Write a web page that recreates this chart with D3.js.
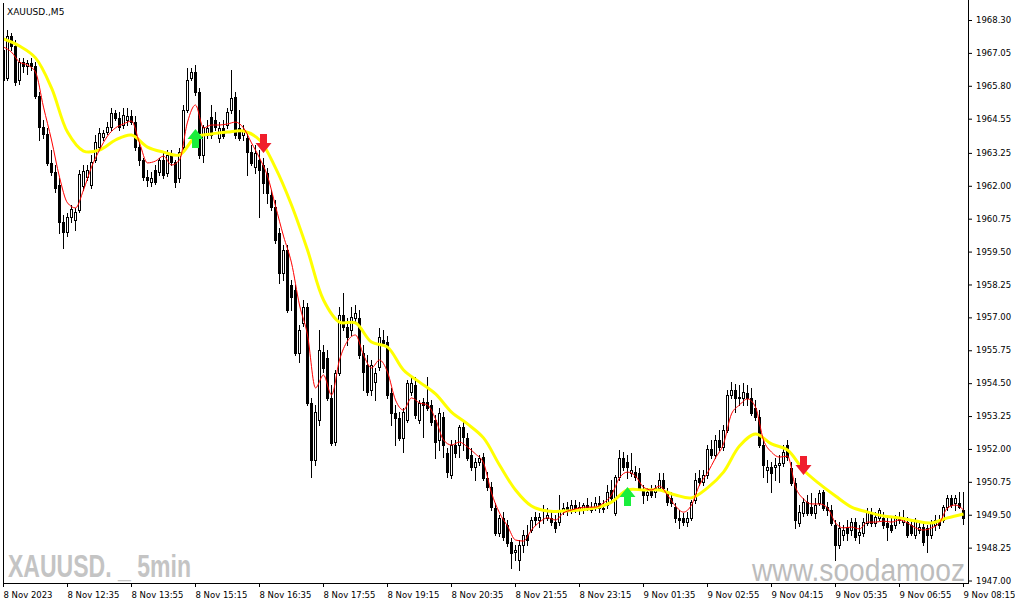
<!DOCTYPE html>
<html><head><meta charset="utf-8">
<script src="https://cdn.jsdelivr.net/npm/d3@7"></script>
<style>html,body{margin:0;padding:0;background:#fff;overflow:hidden}svg{display:block}</style>
</head><body><svg id="c" width="1015" height="605"></svg>
<script>
// ---- DATA (XAUUSD., M5) ----
const open=[1967.16,1966.10,1967.69,1967.31,1966.02,1966.70,1966.55,1966.67,1966.55,1965.41,
1964.23,1963.97,1962.87,1962.52,1962.03,1960.62,1960.24,1960.81,1960.70,1961.08,
1961.99,1962.33,1962.03,1962.98,1963.47,1963.85,1964.04,1964.23,1964.77,1964.58,
1964.31,1964.50,1964.65,1964.42,1963.47,1962.98,1962.33,1962.14,1962.60,1962.52,
1962.98,1962.49,1963.17,1962.90,1962.30,1963.47,1964.88,1966.10,1966.32,1965.56,
1963.17,1963.93,1964.61,1964.50,1963.82,1964.20,1964.31,1964.88,1965.37,1964.20,
1963.93,1963.82,1963.28,1962.71,1962.98,1962.79,1962.49,1961.65,1961.19,1960.21,
1958.69,1959.56,1958.23,1958.04,1955.65,1956.79,1957.39,1953.75,1951.58,1953.10,
1955.68,1955.46,1953.94,1952.26,1954.89,1957.09,1956.63,1956.52,1956.98,1956.98,
1955.65,1955.19,1954.24,1954.54,1955.11,1956.14,1956.06,1954.13,1953.37,1953.18,
1952.42,1953.10,1954.16,1954.43,1953.10,1953.78,1953.78,1953.67,1953.10,1952.34,
1953.21,1951.85,1951.01,1952.15,1952.15,1952.83,1952.42,1951.77,1951.31,1951.50,
1951.69,1950.90,1950.55,1949.76,1948.81,1949.38,1949.11,1948.46,1948.08,1947.78,
1948.35,1948.73,1948.92,1949.41,1949.30,1949.38,1949.38,1949.38,1949.22,1949.22,
1949.68,1949.79,1949.68,1949.87,1949.68,1949.68,1949.87,1949.79,1949.76,1949.95,
1949.76,1949.87,1950.44,1949.57,1950.93,1951.66,1951.50,1951.09,1951.12,1951.09,
1950.44,1950.25,1950.44,1950.36,1950.52,1950.82,1950.36,1950.14,1949.79,1949.38,
1949.38,1949.22,1949.38,1950.06,1950.90,1950.74,1951.01,1952.00,1951.77,1952.34,
1952.07,1952.72,1954.05,1954.24,1953.97,1953.94,1954.13,1953.94,1953.56,1953.21,
1952.15,1951.20,1951.31,1951.31,1951.39,1951.47,1952.15,1951.28,1950.71,1949.19,
1949.57,1949.98,1949.79,1949.57,1949.95,1950.36,1949.79,1949.68,1949.11,1948.35,
1948.73,1949.03,1948.92,1949.22,1948.73,1948.81,1949.19,1949.60,1949.19,1949.38,
1949.38,1949.19,1949.11,1949.11,1949.38,1949.22,1949.22,1949.11,1948.73,1948.92,
1949.03,1949.00,1948.73,1949.11,1949.30,1949.30,1949.79,1950.14,1949.95,1949.95,
1949.68];
const high=[1967.39,1967.92,1967.81,1967.54,1966.86,1966.86,1966.78,1966.86,1966.70,1965.56,
1964.50,1964.20,1963.36,1962.79,1962.30,1960.89,1960.97,1961.27,1961.16,1962.60,
1962.79,1962.79,1963.17,1963.93,1964.20,1964.12,1964.42,1964.96,1964.88,1964.80,
1964.96,1964.96,1964.88,1964.65,1963.74,1963.06,1962.60,1962.52,1962.79,1963.06,
1963.28,1963.36,1963.36,1962.98,1963.44,1965.07,1966.48,1966.48,1966.59,1965.72,
1964.31,1964.50,1965.07,1964.80,1964.42,1964.50,1964.96,1966.40,1965.56,1964.88,
1964.31,1964.04,1963.55,1963.55,1963.36,1963.06,1962.68,1961.84,1961.46,1960.40,
1959.75,1959.75,1958.42,1958.23,1956.71,1957.66,1957.55,1953.94,1953.67,1956.52,
1955.95,1955.76,1954.43,1955.00,1957.39,1957.93,1956.98,1957.39,1957.47,1957.28,
1955.95,1955.57,1955.38,1955.08,1956.60,1956.52,1956.29,1954.32,1953.67,1953.40,
1953.56,1954.62,1954.73,1954.73,1953.86,1953.94,1954.73,1953.86,1953.29,1953.56,
1953.40,1952.04,1952.34,1952.34,1952.91,1953.02,1952.61,1952.04,1951.66,1951.77,
1951.85,1951.12,1950.74,1949.95,1949.49,1949.60,1949.30,1948.62,1948.35,1948.54,
1948.92,1949.11,1949.41,1949.60,1949.57,1949.87,1949.76,1949.60,1949.49,1950.25,
1949.95,1949.98,1950.06,1950.06,1949.98,1949.95,1950.14,1949.98,1950.17,1950.21,
1950.06,1950.63,1950.82,1951.01,1951.96,1951.88,1951.77,1951.85,1951.35,1951.28,
1950.63,1950.52,1950.63,1950.63,1951.09,1951.09,1950.52,1950.36,1949.95,1949.68,
1949.57,1949.60,1950.06,1951.09,1951.20,1951.20,1952.15,1952.34,1952.53,1952.72,
1952.91,1954.24,1954.54,1954.47,1954.43,1954.51,1954.43,1954.32,1953.86,1953.48,
1952.34,1951.58,1951.50,1951.66,1951.77,1952.15,1952.34,1951.50,1950.90,1949.87,
1950.14,1950.25,1950.33,1950.14,1950.44,1950.44,1949.98,1949.87,1949.30,1949.22,
1949.11,1949.30,1949.38,1949.38,1949.11,1949.38,1949.76,1949.76,1949.60,1949.76,
1949.60,1949.38,1949.38,1949.49,1949.60,1949.68,1949.41,1949.30,1949.38,1949.22,
1949.22,1949.11,1949.30,1949.49,1949.49,1949.87,1950.25,1950.25,1950.25,1950.36,
1950.36];
const low=[1965.91,1966.02,1967.16,1965.83,1965.87,1966.32,1966.25,1966.40,1965.34,1963.74,
1963.82,1962.79,1962.41,1961.76,1960.21,1959.64,1960.09,1960.62,1960.32,1961.00,
1961.84,1962.22,1961.92,1962.90,1963.36,1963.74,1963.97,1964.12,1964.50,1964.12,
1964.20,1964.31,1964.35,1963.36,1962.79,1962.22,1961.99,1961.99,1962.07,1962.41,
1962.30,1962.37,1962.79,1961.95,1962.14,1963.36,1964.80,1966.02,1965.45,1963.06,
1962.90,1963.82,1963.82,1964.12,1963.66,1963.82,1964.20,1964.77,1963.82,1963.74,
1963.74,1962.41,1962.79,1962.49,1960.81,1961.73,1961.35,1961.08,1959.83,1958.31,
1958.42,1957.20,1957.28,1955.57,1955.30,1956.67,1953.67,1950.93,1951.39,1952.91,
1954.92,1953.86,1952.15,1952.15,1954.81,1956.52,1955.95,1956.33,1956.82,1955.46,
1954.24,1954.05,1954.05,1953.86,1955.00,1955.95,1953.94,1952.91,1952.15,1952.34,
1951.88,1953.02,1954.05,1953.18,1952.99,1952.45,1953.48,1952.91,1951.66,1951.96,
1951.69,1950.93,1950.90,1951.69,1951.69,1951.96,1951.58,1951.20,1950.82,1951.39,
1950.82,1950.44,1949.68,1948.73,1948.69,1948.54,1948.31,1947.48,1947.78,1947.40,
1948.08,1948.35,1948.84,1949.11,1949.03,1949.19,1949.30,1949.11,1948.84,1949.11,
1949.53,1949.49,1949.57,1949.60,1949.53,1949.57,1949.68,1949.60,1949.68,1949.60,
1949.60,1949.76,1950.06,1949.49,1950.82,1951.20,1950.90,1950.97,1950.82,1950.44,
1949.95,1950.06,1950.17,1950.17,1950.44,1950.44,1949.87,1949.83,1949.22,1949.00,
1949.11,1949.07,1949.30,1949.95,1950.63,1950.63,1950.90,1951.66,1951.66,1951.96,
1951.96,1952.64,1953.94,1953.40,1953.67,1953.67,1953.67,1953.29,1953.10,1952.07,
1950.93,1950.74,1950.36,1950.82,1950.74,1951.35,1951.58,1950.63,1949.00,1949.07,
1949.45,1949.49,1949.49,1949.38,1949.87,1949.68,1949.49,1949.11,1947.78,1948.24,
1948.54,1948.54,1948.73,1948.54,1948.43,1948.69,1949.11,1949.07,1949.07,1949.30,
1949.00,1948.54,1948.84,1949.00,1949.19,1949.11,1948.65,1948.73,1948.62,1948.81,
1948.35,1948.08,1948.62,1948.92,1949.00,1949.22,1949.68,1949.79,1949.68,1949.76,
1949.15];
const close=[1966.02,1967.69,1967.31,1965.94,1966.70,1966.55,1966.67,1966.55,1965.41,1964.23,
1963.97,1962.87,1962.52,1961.92,1960.62,1960.24,1960.81,1961.12,1961.00,1962.45,
1962.56,1962.60,1962.90,1963.66,1964.01,1964.01,1964.23,1964.77,1964.58,1964.23,
1964.69,1964.65,1964.42,1963.47,1962.98,1962.33,1962.22,1962.30,1962.14,1962.98,
1962.41,1963.17,1962.90,1962.14,1963.28,1964.88,1966.02,1966.32,1965.56,1963.17,
1964.23,1964.20,1963.93,1964.23,1964.20,1963.89,1964.80,1965.34,1963.93,1963.82,
1964.12,1963.28,1962.87,1963.25,1962.60,1962.11,1961.73,1961.19,1959.94,1958.69,
1959.56,1957.28,1957.77,1955.65,1956.52,1957.39,1953.75,1951.58,1953.40,1955.76,
1955.08,1953.94,1952.23,1954.89,1957.09,1956.63,1956.25,1957.01,1957.17,1955.57,
1954.92,1954.16,1955.19,1954.89,1956.25,1956.03,1954.05,1953.37,1953.18,1952.42,
1953.40,1954.51,1954.51,1953.29,1953.75,1953.67,1953.56,1953.02,1952.26,1953.37,
1952.15,1951.12,1952.15,1951.85,1952.83,1952.45,1951.66,1951.31,1951.50,1951.66,
1950.90,1950.55,1949.79,1948.81,1949.38,1948.65,1948.43,1948.05,1948.16,1948.35,
1948.73,1948.54,1949.30,1949.30,1949.41,1949.37,1949.49,1949.22,1949.00,1949.68,
1949.76,1949.64,1949.87,1949.68,1949.79,1949.87,1949.76,1949.68,1949.95,1949.76,
1949.72,1950.36,1950.14,1950.93,1951.66,1951.31,1951.31,1951.20,1950.93,1950.52,
1950.25,1950.36,1950.25,1950.52,1950.82,1950.52,1949.98,1949.95,1949.38,1949.30,
1949.22,1949.38,1949.98,1950.82,1950.74,1951.01,1952.00,1951.77,1952.34,1952.07,
1952.72,1954.05,1954.24,1953.94,1953.94,1954.16,1953.94,1953.37,1953.21,1952.15,
1951.39,1951.31,1951.09,1951.39,1951.47,1951.88,1951.69,1950.71,1949.30,1949.60,
1949.98,1949.57,1949.57,1949.87,1950.33,1949.76,1949.68,1949.19,1948.35,1949.00,
1948.92,1948.81,1949.22,1948.65,1948.84,1949.22,1949.60,1949.19,1949.41,1949.68,
1949.11,1949.03,1948.92,1949.38,1949.30,1949.38,1948.73,1948.81,1949.30,1949.03,
1948.46,1948.73,1949.19,1949.30,1949.11,1949.79,1950.14,1949.87,1950.14,1949.79,
1949.38];
// slow moving average (yellow), one value every 4 bars
const slowMA=[1967.58,1967.31,1966.86,1965.72,1964.04,1963.32,1963.36,1963.74,1963.93,1963.47,
1963.28,1963.17,1963.85,1963.97,1964.04,1964.08,1963.74,1962.68,1961.27,1959.56,
1957.66,1956.82,1956.79,1956.06,1955.87,1955.00,1954.54,1954.09,1953.40,1952.95,
1952.42,1951.39,1950.44,1949.83,1949.64,1949.64,1949.68,1949.76,1949.98,1950.44,
1950.44,1950.44,1950.25,1950.14,1950.52,1951.12,1952.11,1952.57,1952.19,1951.96,
1951.20,1950.67,1950.21,1949.79,1949.60,1949.45,1949.38,1949.26,1949.19,1949.38,
1949.53];
// fast moving average (red), one value every 2 bars
const fastMA=[1967.27,1967.08,1966.70,1966.59,1966.32,1964.99,1963.74,1962.33,1961.35,1961.16,
1961.84,1962.71,1963.36,1963.89,1964.20,1964.35,1964.46,1963.63,1962.87,1962.94,
1963.13,1962.79,1962.98,1964.42,1965.07,1964.20,1964.31,1964.31,1964.35,1964.42,
1964.20,1963.63,1963.06,1962.37,1961.23,1960.09,1959.07,1957.47,1956.33,1954.32,
1954.81,1954.05,1955.38,1956.10,1956.33,1955.57,1955.08,1955.38,1954.92,1953.86,
1953.48,1953.94,1953.75,1953.67,1953.14,1952.34,1952.15,1952.26,1952.07,1951.81,
1951.47,1950.33,1949.57,1949.07,1948.54,1948.50,1948.92,1949.22,1949.38,1949.30,
1949.57,1949.68,1949.76,1949.79,1949.79,1949.95,1950.25,1950.90,1951.12,1950.97,
1950.55,1950.44,1950.59,1950.25,1949.83,1949.60,1949.87,1950.63,1951.09,1951.66,
1952.19,1953.33,1953.67,1953.90,1953.59,1952.34,1951.88,1951.69,1951.73,1950.55,
1950.10,1949.91,1949.91,1949.76,1949.19,1949.00,1949.03,1948.96,1949.22,1949.22,
1949.26,1949.22,1949.30,1949.19,1949.00,1948.92,1949.00,1949.19,1949.76,1949.87,
1949.68];
const priceTicks=["1968.30","1967.05","1965.80","1964.55","1963.25","1962.00","1960.75","1959.50","1958.25",
"1957.00","1955.75","1954.50","1953.25","1952.00","1950.75","1949.50","1948.25","1947.00"];
const timeLabels=["8 Nov 2023","8 Nov 12:35","8 Nov 13:55","8 Nov 15:15","8 Nov 16:35","8 Nov 17:55",
"8 Nov 19:15","8 Nov 20:35","8 Nov 21:55","8 Nov 23:15","9 Nov 01:35","9 Nov 02:55","9 Nov 04:15",
"9 Nov 05:35","9 Nov 06:55","9 Nov 08:15"];
const arrowBars=[48,65,156,200];
const arrowPrices=[1964.16,1963.25,1950.55,1951.01];
const arrowDirs=["up","down","up","down"];

// ---- DRAW ----
const L=3,R=968,T=3,B=583;
const svg=d3.select("#c");
const y=d3.scaleLinear().domain([1946.906,1968.946]).range([B,T]);
const x=d3.scaleLinear().domain([0,240]).range([3,963]);
const font="DejaVu Sans, Verdana, sans-serif";

svg.append("defs").append("clipPath").attr("id","plot")
  .append("rect").attr("x",L+1).attr("y",0).attr("width",R-L-1).attr("height",B);

// watermarks
svg.append("text").attr("x",8).attr("y",577).text("XAUUSD. _ 5min")
  .attr("font-family","Liberation Sans, Arial, sans-serif")
  .attr("font-weight","bold").attr("font-size",31).attr("fill","#c4c4c4")
  .attr("textLength",183).attr("lengthAdjust","spacingAndGlyphs");
svg.append("text").attr("x",752).attr("y",581).text("www.soodamooz")
  .attr("font-family","Liberation Sans, Arial, sans-serif")
  .attr("font-size",31).attr("fill","#bcbcbc")
  .attr("textLength",213).attr("lengthAdjust","spacingAndGlyphs");

const g=svg.append("g").attr("clip-path","url(#plot)");
const idx=d3.range(close.length);
const snap=v=>Math.round(v)+0.5;

// wicks
g.append("g").selectAll("line").data(idx).join("line")
  .attr("x1",i=>x(i)+0.5).attr("x2",i=>x(i)+0.5)
  .attr("y1",i=>Math.round(y(Math.max(high[i],open[i],close[i]))))
  .attr("y2",i=>Math.round(y(Math.min(low[i],open[i],close[i])))+1)
  .attr("stroke","#000").attr("stroke-width",1);
// bodies
g.append("g").selectAll("rect").data(idx).join("rect")
  .attr("x",i=>x(i)-1+0.5).attr("width",2)
  .attr("y",i=>snap(y(Math.max(open[i],close[i]))))
  .attr("height",i=>Math.max(0,Math.round(y(Math.min(open[i],close[i])))-Math.round(y(Math.max(open[i],close[i])))))
  .attr("fill",i=>close[i]>=open[i]?"#fff":"#000")
  .attr("stroke","#000").attr("stroke-width",1);

// moving averages
g.append("path").datum(slowMA)
  .attr("d",d3.line().x((d,k)=>x(k*4)+0.5).y(d=>y(d)).curve(d3.curveCatmullRom))
  .attr("fill","none").attr("stroke","#ffff00").attr("stroke-width",3);
g.append("path").datum(fastMA)
  .attr("d",d3.line().x((d,k)=>x(k*2)+0.5).y(d=>y(d)).curve(d3.curveMonotoneX))
  .attr("fill","none").attr("stroke","#ff0000").attr("stroke-width",1);

// signal arrows
const upArrow="M0,0 L8,10 L3.5,10 L3.5,19 L-3.5,19 L-3.5,10 L-8,10 Z";
g.append("g").selectAll("path").data(d3.range(arrowBars.length)).join("path")
  .attr("d",upArrow)
  .attr("transform",k=>`translate(${x(arrowBars[k])+0.5},${y(arrowPrices[k])})`+(arrowDirs[k]==="down"?" scale(1,-1)":""))
  .attr("fill",k=>arrowDirs[k]==="up"?"#1aee3c":"#f01e2c");

// frame (left, bottom, right axis line)
svg.append("line").attr("x1",L+0.5).attr("x2",L+0.5).attr("y1",T).attr("y2",B+1).attr("stroke","#000");
svg.append("line").attr("x1",L).attr("x2",R+1).attr("y1",B+0.5).attr("y2",B+0.5).attr("stroke","#000");
svg.append("line").attr("x1",R+0.5).attr("x2",R+0.5).attr("y1",0).attr("y2",B+1).attr("stroke","#000");

// right price axis
const ay=svg.append("g").attr("transform",`translate(${R},0)`)
  .call(d3.axisRight(y).tickValues(priceTicks.map(Number)).tickFormat((d,i)=>priceTicks[i]).tickSize(4).tickSizeOuter(0));
ay.select(".domain").remove();
ay.selectAll("text").attr("x",8).attr("dy","0.3em").attr("font-family",font).attr("font-size","8.5px").attr("fill","#000");
ay.selectAll("line").attr("stroke","#000");

// bottom time axis
const ax=svg.append("g").attr("transform",`translate(0,${B})`)
  .call(d3.axisBottom(x).tickValues(d3.range(0,241,16)).tickFormat((d,i)=>timeLabels[i]).tickSize(4).tickSizeOuter(0));
ax.select(".domain").remove();
ax.selectAll("text").attr("text-anchor","start").attr("x",0).attr("y",15).attr("dy",null)
  .attr("font-family",font).attr("font-size","8.5px").attr("fill","#000");
ax.selectAll("line").attr("stroke","#000");

// title
svg.append("text").attr("x",7).attr("y",15).text("XAUUSD.,M5")
  .attr("font-family",font).attr("font-size","9px").attr("fill","#000");
</script></body></html>
